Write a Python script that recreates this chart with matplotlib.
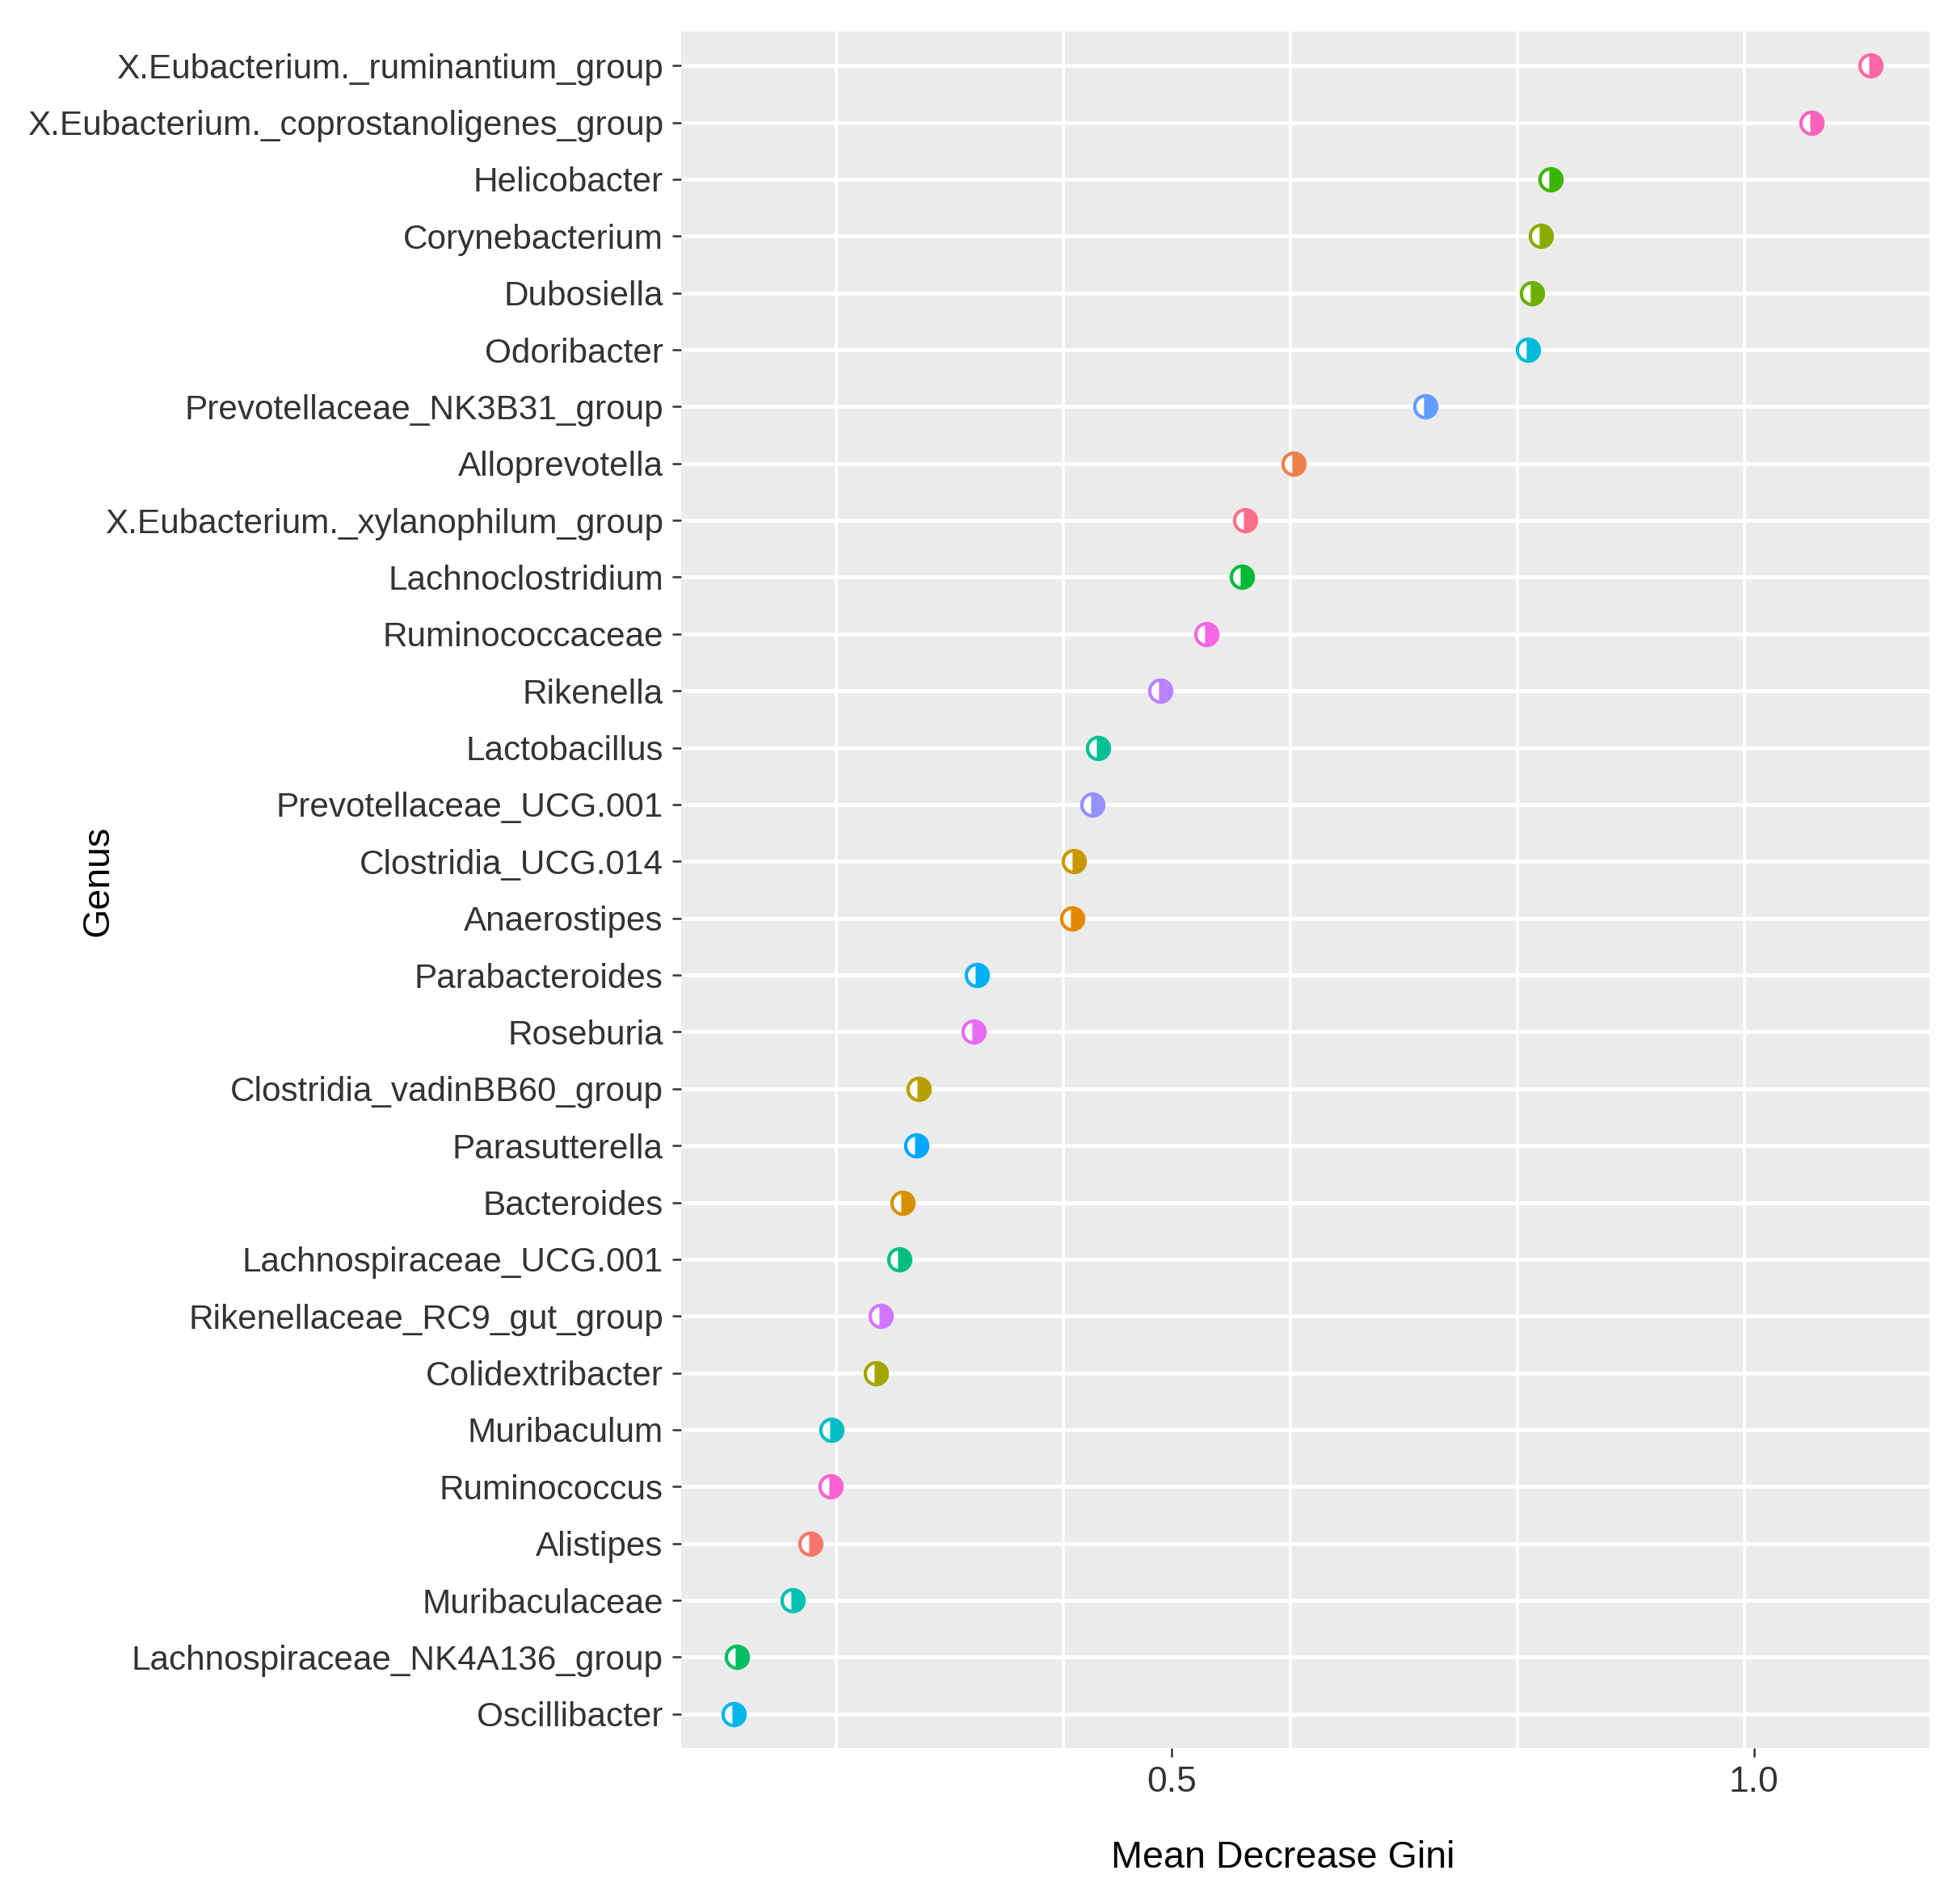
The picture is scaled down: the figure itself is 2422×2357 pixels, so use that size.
import math
import matplotlib
matplotlib.use("Agg")
import matplotlib.pyplot as plt

plt.rcParams["font.family"] = ["Liberation Sans", "DejaVu Sans"]

# Daten (von oben nach unten)
genus = [
    "X.Eubacterium._ruminantium_group",
    "X.Eubacterium._coprostanoligenes_group",
    "Helicobacter",
    "Corynebacterium",
    "Dubosiella",
    "Odoribacter",
    "Prevotellaceae_NK3B31_group",
    "Alloprevotella",
    "X.Eubacterium._xylanophilum_group",
    "Lachnoclostridium",
    "Ruminococcaceae",
    "Rikenella",
    "Lactobacillus",
    "Prevotellaceae_UCG.001",
    "Clostridia_UCG.014",
    "Anaerostipes",
    "Parabacteroides",
    "Roseburia",
    "Clostridia_vadinBB60_group",
    "Parasutterella",
    "Bacteroides",
    "Lachnospiraceae_UCG.001",
    "Rikenellaceae_RC9_gut_group",
    "Colidextribacter",
    "Muribaculum",
    "Ruminococcus",
    "Alistipes",
    "Muribaculaceae",
    "Lachnospiraceae_NK4A136_group",
    "Oscillibacter",
]
gini = [
    1.100, 1.049, 0.825, 0.817, 0.809, 0.806, 0.718, 0.605, 0.563, 0.560,
    0.530, 0.490, 0.437, 0.432, 0.416, 0.415, 0.333, 0.330, 0.283, 0.281,
    0.269, 0.266, 0.250, 0.246, 0.208, 0.207, 0.190, 0.175, 0.127, 0.124,
]
x_ticks = [0.5, 1.0]
x_ticklabels = ["0.5", "1.0"]
x_grid = [0.212, 0.407, 0.602, 0.797, 0.992]


def hcl_hex(h, c=100.0, l=65.0):
    # ggplot2 hue_pal: HCL (polar Luv) -> sRGB
    xn, yn, zn = 95.047, 100.0, 108.883
    hr = math.radians(h)
    u = c * math.cos(hr)
    v = c * math.sin(hr)
    y = yn * ((l + 16) / 116) ** 3
    den = xn + 15 * yn + 3 * zn
    up = u / (13 * l) + 4 * xn / den
    vp = v / (13 * l) + 9 * yn / den
    x = 9 * y * up / (4 * vp)
    z = -x / 3 - 5 * y + 3 * y / vp

    def gam(t):
        t = t / 100.0
        t = 1.055 * t ** (1 / 2.4) - 0.055 if t > 0.00304 else 12.92 * t
        return min(max(t, 0.0), 1.0)

    r = gam(3.240479 * x - 1.537150 * y - 0.498535 * z)
    g = gam(-0.969256 * x + 1.875992 * y + 0.041556 * z)
    b = gam(0.055648 * x - 0.204043 * y + 1.057311 * z)
    return "#%02X%02X%02X" % (round(r * 255), round(g * 255), round(b * 255))


levels = sorted(genus)
n = len(levels)
farben = {g: hcl_hex(15 + 360 * i / n) for i, g in enumerate(levels)}

fig = plt.figure(figsize=(12.11, 11.785), dpi=200)
ax = fig.add_axes([843 / 2422, 1 - 2164 / 2357, (2388 - 843) / 2422, (2164 - 39) / 2357])
ax.set_facecolor("#EBEBEB")
for s in ax.spines.values():
    s.set_visible(False)

for i, (g, val) in enumerate(zip(genus, gini)):
    ax.plot(val, i, marker="o", linestyle="none", markersize=9.8,
            markeredgewidth=1.5, fillstyle="right",
            color=farben[g], markerfacecolor=farben[g],
            markerfacecoloralt="white", markeredgecolor=farben[g], zorder=3)

ax.set_ylim(len(genus) - 0.4, -0.6)
ax.set_xlim(0.079, 1.1505)
ax.set_yticks(range(len(genus)))
ax.set_yticklabels(genus)
ax.set_xticks(x_ticks)
ax.set_xticklabels(x_ticklabels)
ax.set_xticks(x_grid, minor=True)

ax.grid(which="major", axis="y", color="white", linewidth=1.7, zorder=1)
ax.grid(which="major", axis="x", visible=False)
ax.grid(which="minor", axis="x", color="white", linewidth=1.3, zorder=1)
ax.set_axisbelow(True)

ax.tick_params(which="major", length=4, width=0.9, color="#333333",
               labelcolor="#333333", pad=4)
ax.tick_params(axis="y", labelsize=15.2)
ax.tick_params(axis="x", labelsize=16)
ax.tick_params(which="minor", length=0)

# Achsentitel
fig.text(1588 / 2422, 1 - 2300 / 2357, "Mean Decrease Gini", fontsize=16.8,
         ha="center", va="center", color="black")
fig.text(122 / 2422, 1 - 1090 / 2357, "Genus", fontsize=16.8, rotation=90,
         ha="center", va="center", color="black")

plt.savefig("out.png", dpi=200)
